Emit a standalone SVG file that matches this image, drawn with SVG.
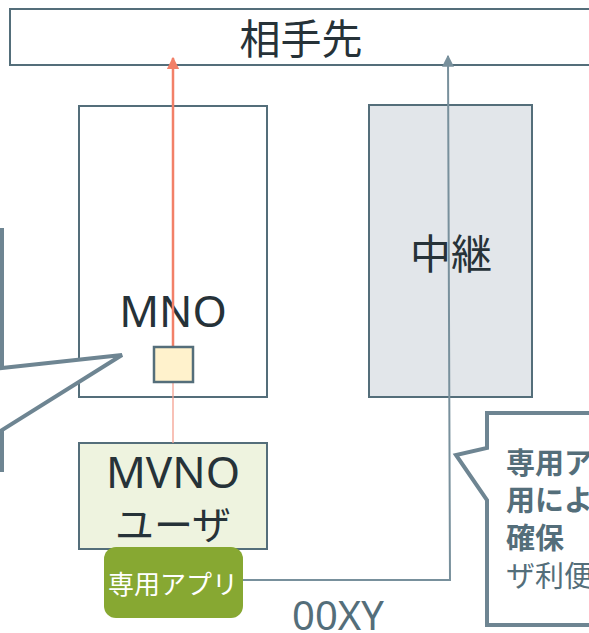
<svg xmlns="http://www.w3.org/2000/svg" width="589" height="633" viewBox="0 0 589 633">
<style>
.t{font-family:"Noto Sans CJK JP","Noto Sans",sans-serif;fill:#263238;text-anchor:middle}
.l{font-family:"Noto Sans",sans-serif;fill:#263238;text-anchor:middle}
.box{stroke:#546E7A;stroke-width:2}
.call{fill:#fff;stroke:#6E8592;stroke-width:4;stroke-linejoin:miter}
.ct{font-family:"Noto Sans CJK JP","Noto Sans",sans-serif;fill:#546E7A;font-size:29px}
</style>
<defs>
<marker id="ar" viewBox="0 0 10 10" refX="9" refY="5" markerWidth="5" markerHeight="5" orient="auto" markerUnits="strokeWidth"><path d="M0,0L10,5L0,10z" fill="#F28068"/></marker>
<marker id="ag" viewBox="0 0 10 10" refX="9" refY="5" markerWidth="6" markerHeight="6" orient="auto" markerUnits="strokeWidth"><path d="M0,0L10,5L0,10z" fill="#78909C"/></marker>
</defs>
<g id="aite"><rect x="10" y="9" width="590" height="56" fill="#fff" class="box"/><text class="t" x="301" y="54" font-size="41">相手先</text></g>
<g id="mno"><rect x="79" y="106" width="188" height="291" fill="#fff" class="box"/><text class="l" x="173" y="327" font-size="44">MNO</text></g>
<g id="chukei"><rect x="369" y="105" width="163" height="292" fill="#E2E6EA" class="box"/><text class="t" x="451" y="269" font-size="41">中継</text></g>
<g id="mvno"><rect x="79" y="443" width="188" height="106" fill="#EEF3DF" class="box"/><text class="l" x="173" y="488" font-size="44">MVNO</text><text class="t" x="173" y="539" font-size="39">ユーザ</text></g>
<g id="connectors">
<line x1="173" y1="382" x2="173" y2="443" stroke="#F4A090" stroke-width="1.3"/>
<line x1="173" y1="347" x2="173" y2="58" stroke="#F28068" stroke-width="2.5" marker-end="url(#ar)"/>
<polyline points="243,580 450,580 448,56" fill="none" stroke="#78909C" stroke-width="2" marker-end="url(#ag)"/>
</g>
<g id="gateway"><rect x="154" y="347" width="39" height="35" fill="#FFF2CC" stroke="#546E7A" stroke-width="2.5"/></g>
<g id="app"><rect x="104" y="547" width="139" height="71" rx="12" fill="#87A832"/><text x="173" y="594" font-size="26" fill="#fff" text-anchor="middle" font-family="Noto Sans CJK JP,sans-serif">専用アプリ</text></g>
<g id="code"><text x="338" y="630" font-size="40" fill="#546E7A" text-anchor="middle" font-family="Noto Sans,sans-serif">00XY</text></g>
<g id="callout-left"><path class="call" d="M-40,230 L2,230 L2,368 L122,355 L2,430 L2,470 L-40,470 Z"/></g>
<g id="callout-right"><path class="call" d="M487,413 L620,413 L620,625 L487,625 L487,500 L456,455 L487,448 Z"/>
<text class="ct" x="506" y="474" font-weight="bold">専用ア</text>
<text class="ct" x="506" y="511" font-weight="bold">用によ</text>
<text class="ct" x="506" y="549" font-weight="bold">確保</text>
<text class="ct" x="506" y="587">ザ利便</text>
</g>
</svg>
